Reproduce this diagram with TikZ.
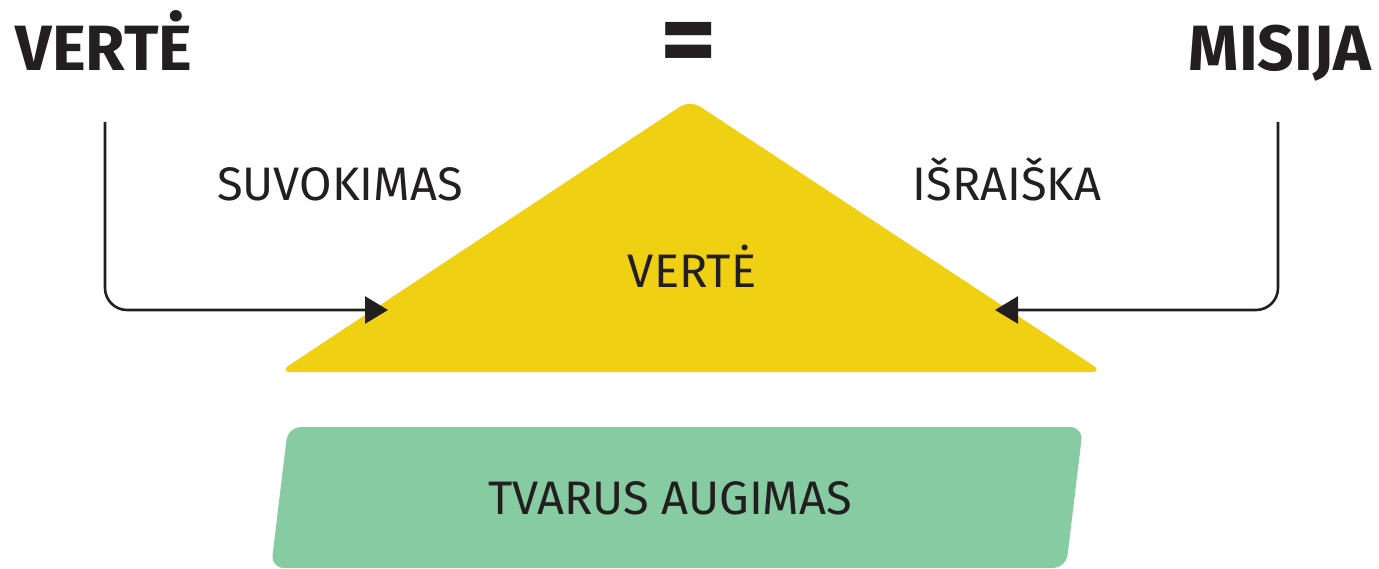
\documentclass[tikz,border=0pt]{standalone}
\usepackage{fontspec}
\setmainfont{Fira Sans}
\usetikzlibrary{arrows.meta}
\definecolor{ink}{HTML}{231F20}
\definecolor{tri}{HTML}{EFD013}
\definecolor{grn}{HTML}{86CBA1}
\tikzset{
  title/.style={anchor=base, text=ink, font=\fontsize{64}{64}\selectfont\bfseries, inner sep=0pt},
  label/.style={anchor=base, text=ink, font=\fontsize{47}{47}\selectfont, inner sep=0pt},
  conn/.style={draw=ink, line width=2.6pt, rounded corners=22pt, -{Triangle[length=23pt,width=27pt]}},
}
\begin{document}
\begin{tikzpicture}[x=1pt,y=-1pt]
\useasboundingbox (0,0) rectangle (1379,569);
% shapes
\fill[tri, rounded corners=12pt] (690,100) -- (1103,372) -- (279,372) -- cycle;
\fill[grn, rounded corners=13pt] (288,427) -- (1083,427) -- (1066,568) -- (271,568) -- cycle;
% titles
\node[title] (v) at (104,71) {VERTĖ};
\node[title] (m) at (1280,71) {MISIJA};
\node[title, anchor=center] (eq) at (689,49) {\scalebox{1.7}{=}};
% labels
\node[label] (s) at (340,201) {SUVOKIMAS};
\node[label] (i) at (1007,201) {IŠRAIŠKA};
\node[label] (vt) at (692,288) {VERTĖ};
\node[label] (t) at (670,514) {TVARUS AUGIMAS};
% connectors
\coordinate (ls) at (105,122);
\coordinate (lc) at (105,310);
\coordinate (lt) at (388,310);
\coordinate (rs) at (1278,122);
\coordinate (rc) at (1278,310);
\coordinate (rt) at (995,310);
\draw[conn] (ls) -- (lc) -- (lt);
\draw[conn] (rs) -- (rc) -- (rt);
\end{tikzpicture}
\end{document}
